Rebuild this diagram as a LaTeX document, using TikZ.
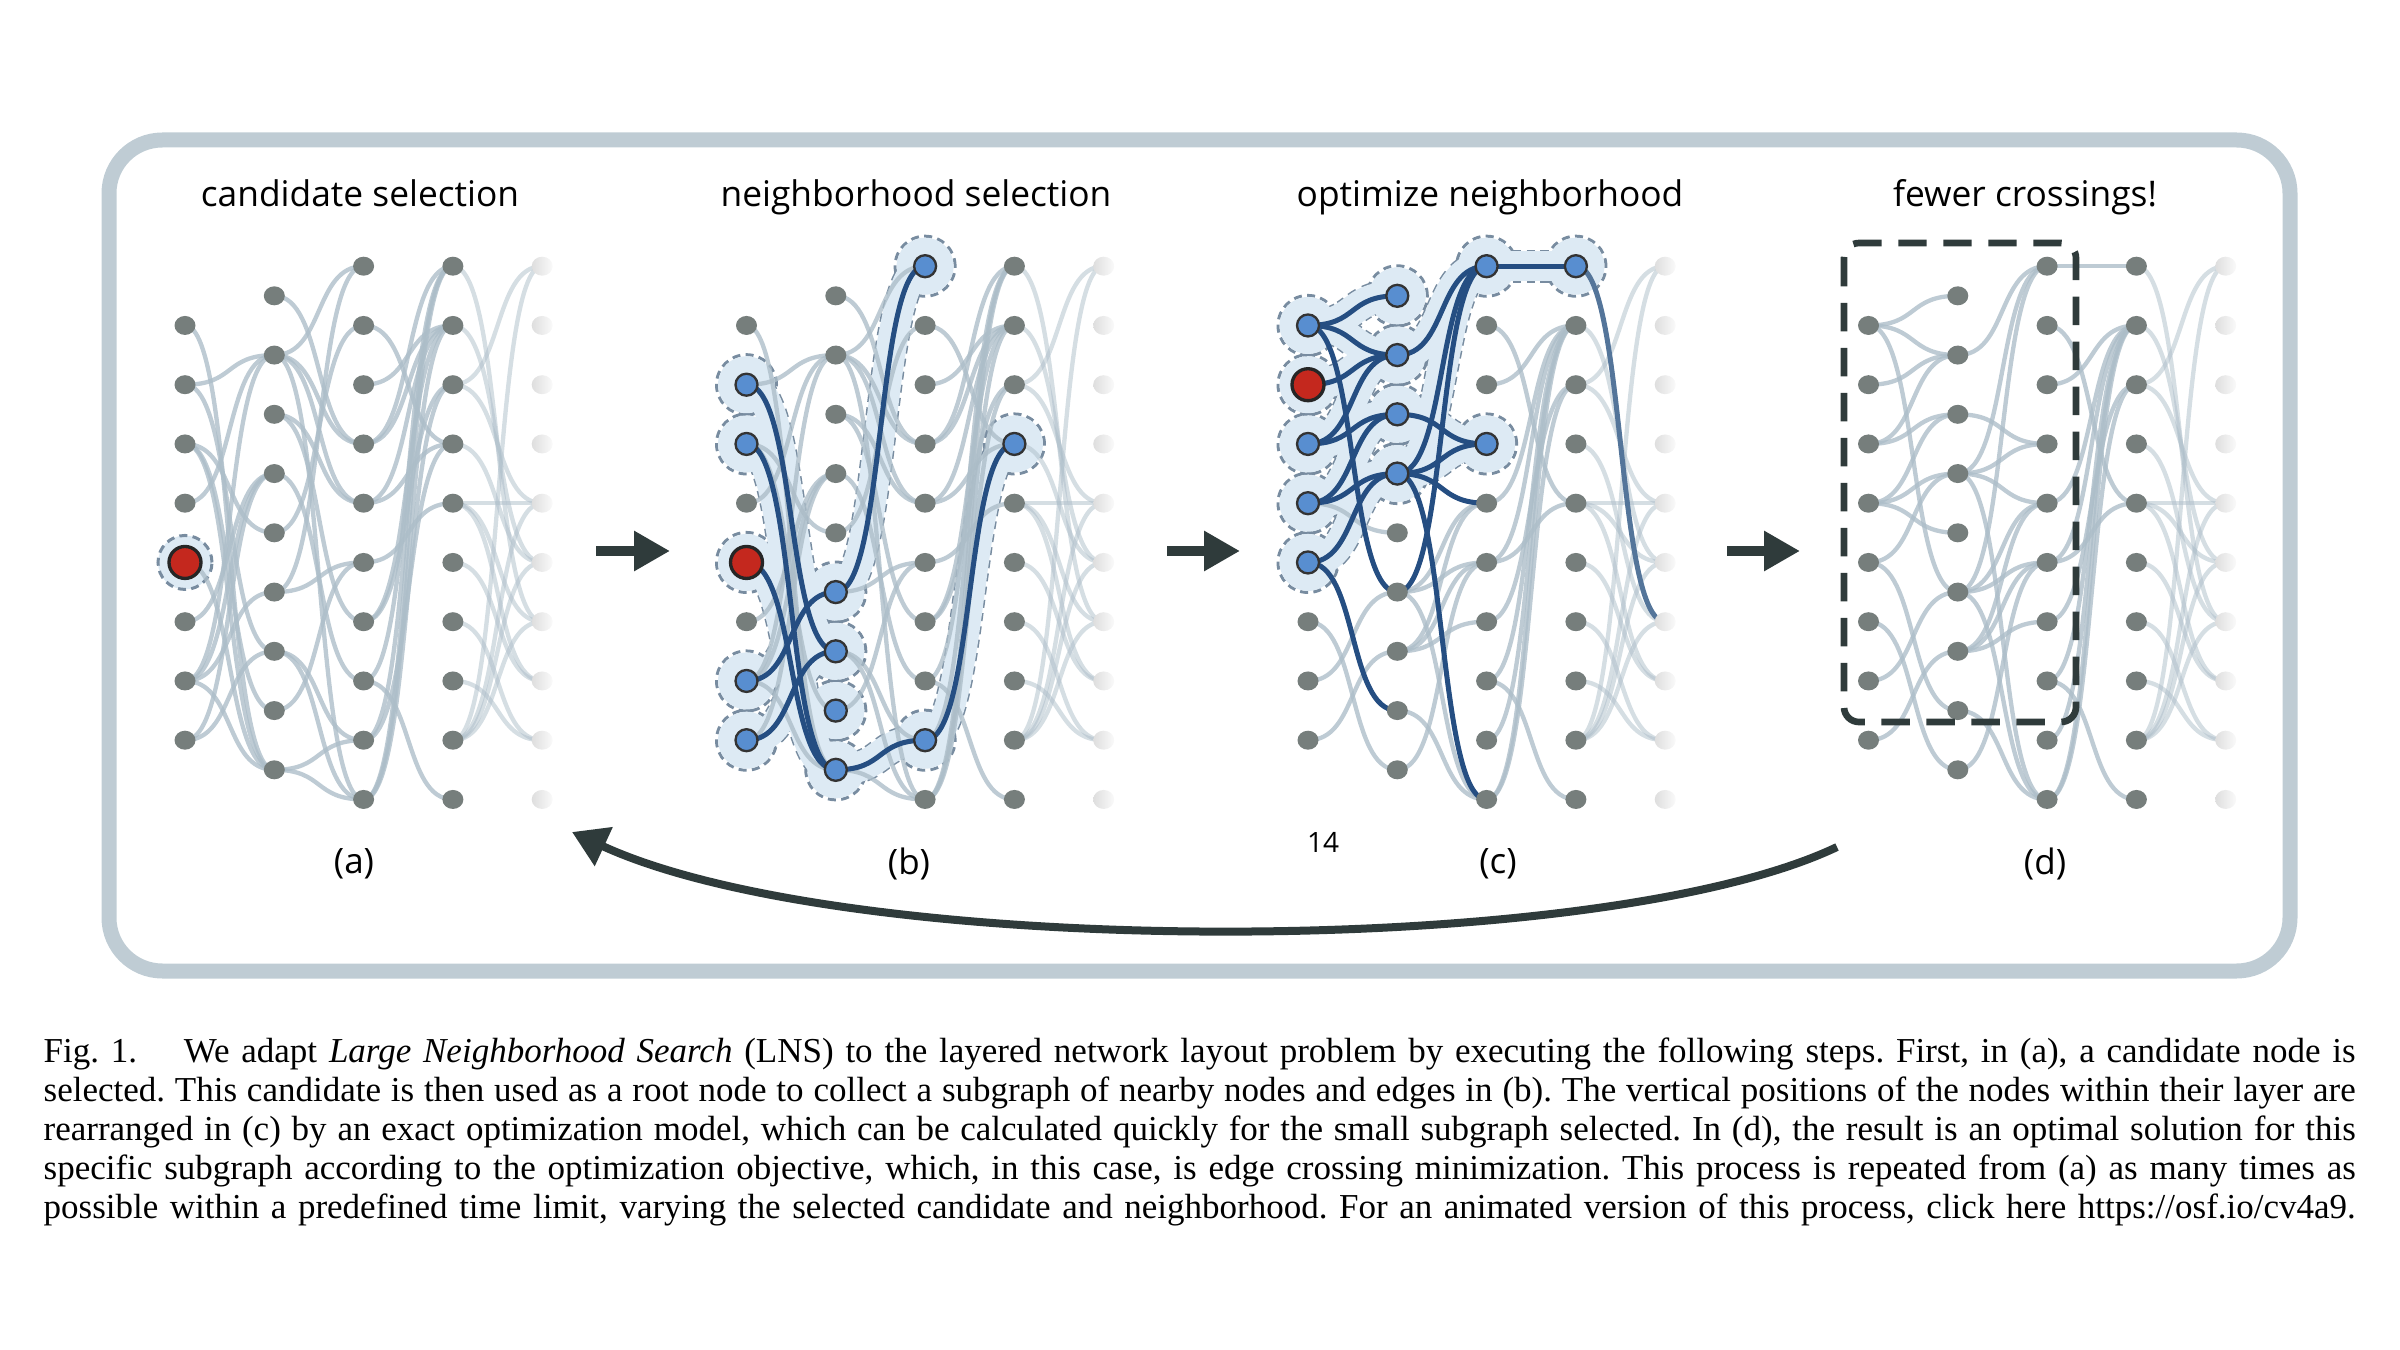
\documentclass[tikz,border=0pt]{standalone}
\usepackage{fontspec}
\setmainfont{Liberation Serif}
\newfontfamily\osans{Open Sans}
\usetikzlibrary{arrows.meta,shapes.geometric}

\definecolor{framec}{RGB}{191,204,212}
\definecolor{edgec}{RGB}{172,189,200}
\definecolor{nodeg}{RGB}{118,126,124}
\definecolor{nodeb}{RGB}{88,142,208}
\definecolor{darke}{RGB}{37,78,130}
\definecolor{redn}{RGB}{196,40,30}
\definecolor{halof}{RGB}{221,234,244}
\definecolor{halob}{RGB}{120,140,160}
\definecolor{arrowc}{RGB}{47,59,59}

\pgfdeclarelayer{haloA}
\pgfdeclarelayer{haloB}
\pgfdeclarelayer{edges}
\pgfdeclarelayer{dark}
\pgfsetlayers{haloA,haloB,edges,dark,main}

\tikzset{
  gn/.style={ellipse, fill=nodeg, minimum width=6.3pt, minimum height=5.7pt, inner sep=0pt},
  fn/.style={ellipse, minimum width=6.3pt, minimum height=5.7pt, inner sep=0pt, left color=black!13, right color=black!2},
  bn/.style={circle, fill=nodeb, draw=black!80, line width=0.7pt, minimum size=6.6pt, inner sep=0pt},
  rn/.style={circle, fill=redn, draw=black!85, line width=1pt, minimum size=9.6pt, inner sep=0pt},
  sc/.style={to path={.. controls +(50,0) and +(-50,0) .. (\tikztotarget)}},
  ge/.style={draw=edgec, draw opacity=0.78, line width=1.3pt},
  fe/.style={draw=edgec, draw opacity=0.5, line width=1.3pt},
  de/.style={draw=darke, line width=1.5pt},
  haloout/.style={draw=halob, line width=9.9pt, dash pattern=on 2.4pt off 1.6pt},
  haloin/.style={draw=halof, line width=9pt},
  title/.style={font=\osans\fontsize{10.6pt}{12pt}\selectfont, anchor=base, inner sep=0pt},
  lab/.style={font=\osans\fontsize{10.5pt}{12pt}\selectfont, inner sep=0pt},
  capline/.style={anchor=base west, inner sep=0pt, font=\fontsize{10.5pt}{11.7pt}\selectfont\frenchspacing},
  bigarr/.style={draw=arrowc, line width=3pt, -{Triangle[length=10.8pt,width=11.4pt]}},
  retarr/.style={draw=arrowc, line width=2.4pt, -{Triangle[length=10.5pt,width=12.3pt]}},
}

% nodes of one panel: #1 prefix, #2 x of first layer
\newcommand\mkpanel[2]{%
  \foreach \h in {2,4,...,16} \node[gn] (#10-\h) at (#2,266.2+29.625*\h) {};
  \foreach \h in {1,3,...,17} \node[gn] (#11-\h) at (#2+89.3,266.2+29.625*\h) {};
  \foreach \h in {0,2,...,18} \node[gn] (#12-\h) at (#2+178.6,266.2+29.625*\h) {};
  \foreach \h in {0,2,...,18} \node[gn] (#13-\h) at (#2+267.9,266.2+29.625*\h) {};
  \foreach \h in {0,2,...,18} \node[fn] (#14-\h) at (#2+357.2,266.2+29.625*\h) {};
}
% edges: style, panel, from layer, to layer, list
\newcommand\edg[5]{\foreach \f/\t in #5 {\draw[#1] (#2#3-\f.center) to[sc] (#2#4-\t.center);}}
\newcommand\hle[2]{%
  \begin{pgfonlayer}{haloA}\draw[haloout] (#1.center) to[sc] (#2.center);\end{pgfonlayer}%
  \begin{pgfonlayer}{haloB}\draw[haloin] (#1.center) to[sc] (#2.center);\end{pgfonlayer}}
\newcommand\hln[1]{%
  \begin{pgfonlayer}{haloA}\draw[halob, line width=0.9pt, dash pattern=on 2.4pt off 1.6pt] (#1.center) circle (9pt);\end{pgfonlayer}%
  \begin{pgfonlayer}{haloB}\fill[halof] (#1.center) circle (8.55pt);\end{pgfonlayer}}

\def\AOne{2/17,4/3,4/13,6/17,6/15,6/9,8/3,10/17,12/7,14/11,14/3,14/7,14/17,16/13,16/7}
\def\ATwo{1/6,3/0,3/6,3/8,3/18,5/8,5/12,7/14,9/2,11/0,11/10,13/16,13/18,15/10,17/16,17/18}
\def\AThree{2/6,4/2,6/0,6/2,8/2,8/6,10/8,12/2,12/4,14/0,14/18,16/6,16/0,18/2,18/0,18/4}
\def\AFour{0/12,2/10,4/0,4/8,6/10,8/8,8/12,8/14,10/14,12/16,14/16,16/0,16/8,16/10,16/12}
\def\DOne{2/1,2/3,2/11,4/3,6/3,6/5,8/5,8/7,8/9,10/7,10/15,12/17,14/11,16/13}
\def\DTwo{3/0,5/6,7/0,7/6,7/8,7/18,11/0,11/8,11/10,11/18,13/8,13/10,13/12,15/18,17/10}
\def\DThree{0/0,2/8,4/2,8/2,10/2,10/8,12/4,14/2,14/18,16/2,18/2,18/4}
\def\DFour{0/12,2/10,4/0,4/8,6/12,8/8,8/10,8/14,10/14,12/16,14/16,16/0,16/8,16/10,16/12}
\def\BdOne{4/13,6/17,10/17,14/11,16/13}
\def\BdTwo{11/0,17/16}
\def\BdThree{16/6}
\def\CdOne{2/1,2/3,2/11,4/3,6/3,6/5,8/5,8/7,10/7,10/15}
\def\CdTwo{3/0,5/6,7/0,7/6,7/8,7/18,11/0}
\def\CdThree{0/0}

\begin{document}
\begin{tikzpicture}[x=0.3pt,y=-0.3pt]
\useasboundingbox (0,0) rectangle (2400,1350);

% outer frame
\draw[framec, line width=4.5pt, rounded corners=16pt] (109,140) rectangle (2290,971);

% titles
\node[title] (ta) at (360,206) {candidate selection};
\node[title] (tb) at (916,206) {neighborhood selection};
\node[title] (tc) at (1490,206) {optimize neighborhood};
\node[title] (td) at (2025,206) {fewer crossings!};

% panels
\mkpanel{a}{185}
\mkpanel{b}{746.5}
\mkpanel{c}{1308}
\mkpanel{d}{1868.5}

% selected nodes
\foreach \n in {b0-4,b0-6,b0-14,b0-16,b1-11,b1-13,b1-15,b1-17,b2-0,b2-16,b3-6,
                c0-2,c0-6,c0-8,c0-10,c1-1,c1-3,c1-5,c1-7,c2-0,c2-6,c3-0}
  \node[bn] (\n) at (\n) {};
\node[rn] (a0-10) at (a0-10) {};
\node[rn] (b0-10) at (b0-10) {};
\node[rn] (c0-4) at (c0-4) {};

% grey edges
\begin{pgfonlayer}{edges}
  \foreach \p in {a,b} {
    \edg{ge}{\p}{0}{1}{\AOne}
    \edg{ge}{\p}{1}{2}{\ATwo}
    \edg{ge}{\p}{2}{3}{\AThree}
    \edg{fe}{\p}{3}{4}{\AFour}
  }
  \foreach \p in {c,d} {
    \edg{ge}{\p}{0}{1}{\DOne}
    \edg{ge}{\p}{1}{2}{\DTwo}
    \edg{ge}{\p}{2}{3}{\DThree}
    \edg{fe}{\p}{3}{4}{\DFour}
  }
\end{pgfonlayer}

% highlighted edges
\begin{pgfonlayer}{dark}
  \edg{de}{b}{0}{1}{\BdOne}
  \edg{de}{b}{1}{2}{\BdTwo}
  \edg{de}{b}{2}{3}{\BdThree}
  \edg{de}{c}{0}{1}{\CdOne}
  \edg{de}{c}{1}{2}{\CdTwo}
  \edg{de}{c}{2}{3}{\CdThree}
  \draw[de, draw=darke!65!edgec] (c3-0.center) to[sc] (c4-12.center);
\end{pgfonlayer}

% halos
\begin{pgfonlayer}{haloA}
  \draw[halob, fill=halof, line width=0.9pt, dash pattern=on 2.4pt off 1.6pt] (a0-10.center) circle (8.1pt);
\end{pgfonlayer}
\foreach \u/\v in {b0-4/b1-13,b0-6/b1-17,b0-10/b1-17,b0-14/b1-11,b0-16/b1-13,b1-11/b2-0,b1-17/b2-16,b2-16/b3-6}
  {\hle{\u}{\v}}
\foreach \n in {b0-4,b0-6,b0-10,b0-14,b0-16,b1-11,b1-13,b1-15,b1-17,b2-0,b2-16,b3-6}
  {\hln{\n}}
\foreach \u/\v in {c0-2/c1-1,c0-2/c1-3,c0-4/c1-3,c0-6/c1-3,c0-6/c1-5,c0-8/c1-5,c0-8/c1-7,c0-10/c1-7,c1-3/c2-0,c1-5/c2-6,c1-7/c2-6,c1-7/c2-0,c2-0/c3-0}
  {\hle{\u}{\v}}
\foreach \n in {c0-2,c0-4,c0-6,c0-8,c0-10,c1-1,c1-3,c1-5,c1-7,c2-0,c2-6,c3-0}
  {\hln{\n}}

% dashed region in (d)
\draw[arrowc, line width=2pt, dash pattern=on 8.5pt off 5pt, rounded corners=4.5pt] (1844,243) rectangle (2076,722);

% step arrows
\coordinate (s1) at (596,551); \coordinate (e1) at (670,551);
\coordinate (s2) at (1167,551); \coordinate (e2) at (1240,551);
\coordinate (s3) at (1727,551); \coordinate (e3) at (1800,551);
\draw[bigarr] (s1) -- (e1);
\draw[bigarr] (s2) -- (e2);
\draw[bigarr] (s3) -- (e3);

% return arrow
\coordinate (rs) at (1837,847);
\coordinate (re) at (572,832);
\draw[retarr] (rs) .. controls (1600,960) and (850,960) .. (re);

% panel labels
\node[lab] (la) at (354,864) {(a)};
\node[lab] (lb) at (909,864) {(b)};
\node[lab] (lc) at (1498,864) {(c)};
\node[lab] (ld) at (2045,864) {(d)};
\node[lab, font=\osans\fontsize{8.4pt}{10pt}\selectfont] (l14) at (1323,842) {14};

% caption
\node[capline] (cap1) at (43,1062) {\makebox[693.6pt][s]{Fig.~1.\hspace{14pt}We adapt \textit{Large Neighborhood Search} (LNS) to the layered network layout problem by executing the following steps. First, in (a), a candidate node is}};
\node[capline] (cap2) at (43,1101) {\makebox[693.6pt][s]{selected. This candidate is then used as a root node to collect a subgraph of nearby nodes and edges in (b). The vertical positions of the nodes within their layer are}};
\node[capline] (cap3) at (43,1140) {\makebox[693.6pt][s]{rearranged in (c) by an exact optimization model, which can be calculated quickly for the small subgraph selected. In (d), the result is an optimal solution for this}};
\node[capline] (cap4) at (43,1179) {\makebox[693.6pt][s]{specific subgraph according to the optimization objective, which, in this case, is edge crossing minimization. This process is repeated from (a) as many times as}};
\node[capline] (cap5) at (43,1218) {\makebox[693.6pt][s]{possible within a predefined time limit, varying the selected candidate and neighborhood. For an animated version of this process, click here https://osf.io/cv4a9.}};
\end{tikzpicture}
\end{document}
